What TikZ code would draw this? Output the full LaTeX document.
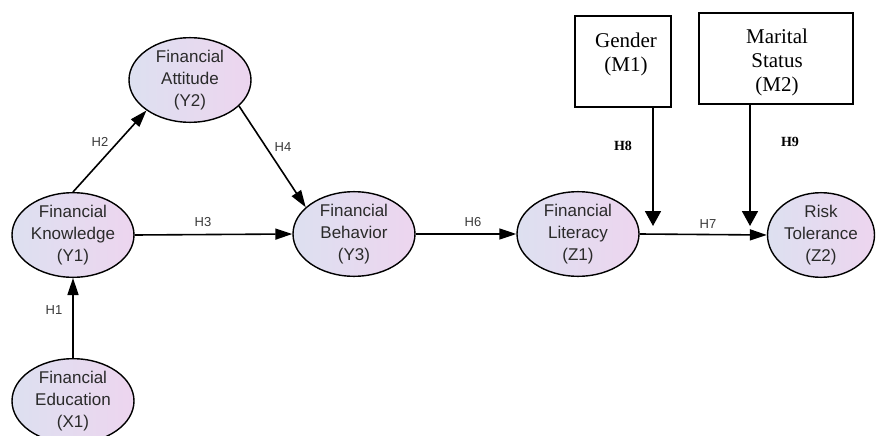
\documentclass[tikz,border=0pt]{standalone}
\usepackage{fontspec}
\setmainfont{Liberation Serif}
\newfontfamily\arialfont{Liberation Sans}
\usetikzlibrary{shapes.geometric,arrows.meta}
\definecolor{ellL}{HTML}{DDE0F0}
\definecolor{ellR}{HTML}{EDD5EF}
\definecolor{txt}{HTML}{2A2A2A}
\definecolor{lbl}{HTML}{3A3A3A}
\tikzset{
  latent/.style={ellipse, draw=black, line width=1.4pt, left color=ellL, right color=ellR,
    minimum width=122pt, minimum height=76pt, inner sep=0pt, align=center,
    font=\arialfont\fontsize{17}{22}\selectfont, text=txt},
  modbox/.style={draw=black, line width=1.8pt, fill=white, inner sep=0pt},
  modtext/.style={align=center, inner sep=0pt, font=\fontsize{21}{24}\selectfont},
  path/.style={line width=1.6pt, -{Triangle[length=17pt,width=11pt]}},
  modpath/.style={line width=1.8pt, -{Triangle[length=15pt,width=16pt]}},
  hlabel/.style={font=\arialfont\fontsize{13}{15}\selectfont, text=lbl, inner sep=0pt},
  mlabel/.style={font=\bfseries\fontsize{14}{16}\selectfont, inner sep=0pt}
}
\begin{document}
\begin{tikzpicture}[x=1pt,y=-1pt]
\useasboundingbox (0,0) rectangle (878,436);
\begin{scope}
\clip (0,0) rectangle (878,436);
% latent variables
\node[latent] (X1) at (73,401) {Financial\\Education\\(X1)};
\node[latent] (Y1) at (73,235) {Financial\\Knowledge\\(Y1)};
\node[latent] (Y2) at (190,80) {Financial\\Attitude\\(Y2)};
\node[latent] (Y3) at (354,234) {Financial\\Behavior\\(Y3)};
\node[latent] (Z1) at (578,234) {Financial\\Literacy\\(Z1)};
\node[latent, minimum width=107pt, minimum height=80pt] (Z2) at (821,235) {Risk\\Tolerance\\(Z2)};
% moderator boxes
\node[modbox, minimum width=96pt, minimum height=91pt] (G) at (623,61.5) {};
\node[modtext] (Gt) at (626,54) {Gender\\(M1)};
\node[modbox, minimum width=154pt, minimum height=91pt] (M) at (776,58.5) {};
\node[modtext] (Mt) at (777,62) {Marital\\Status\\(M2)};
% connectors
\draw[path] (X1.north) -- (Y1.south);
\draw[path] (Y1.north) -- (Y2.215);
\draw[path] (Y1.east) -- (Y3.west);
\draw[path] (Y2.-28) -- (Y3.151);
\draw[path] (Y3.east) -- (Z1.west);
\draw[path] (Z1.east) -- (Z2.west);
\coordinate (g8) at (653,226);
\coordinate (m9) at (750,226);
\draw[modpath] (G.south -| g8) -- (g8);
\draw[modpath] (M.south -| m9) -- (m9);
% labels
\node[hlabel] (h1) at (54,310) {H1};
\node[hlabel] (h2) at (100,142) {H2};
\node[hlabel] (h3) at (203,222) {H3};
\node[hlabel] (h4) at (283,147) {H4};
\node[hlabel] (h6) at (473,222) {H6};
\node[hlabel] (h7) at (708,224) {H7};
\node[mlabel] (h8) at (623,146) {H8};
\node[mlabel] (h9) at (790,142) {H9};
\end{scope}
\end{tikzpicture}
\end{document}
